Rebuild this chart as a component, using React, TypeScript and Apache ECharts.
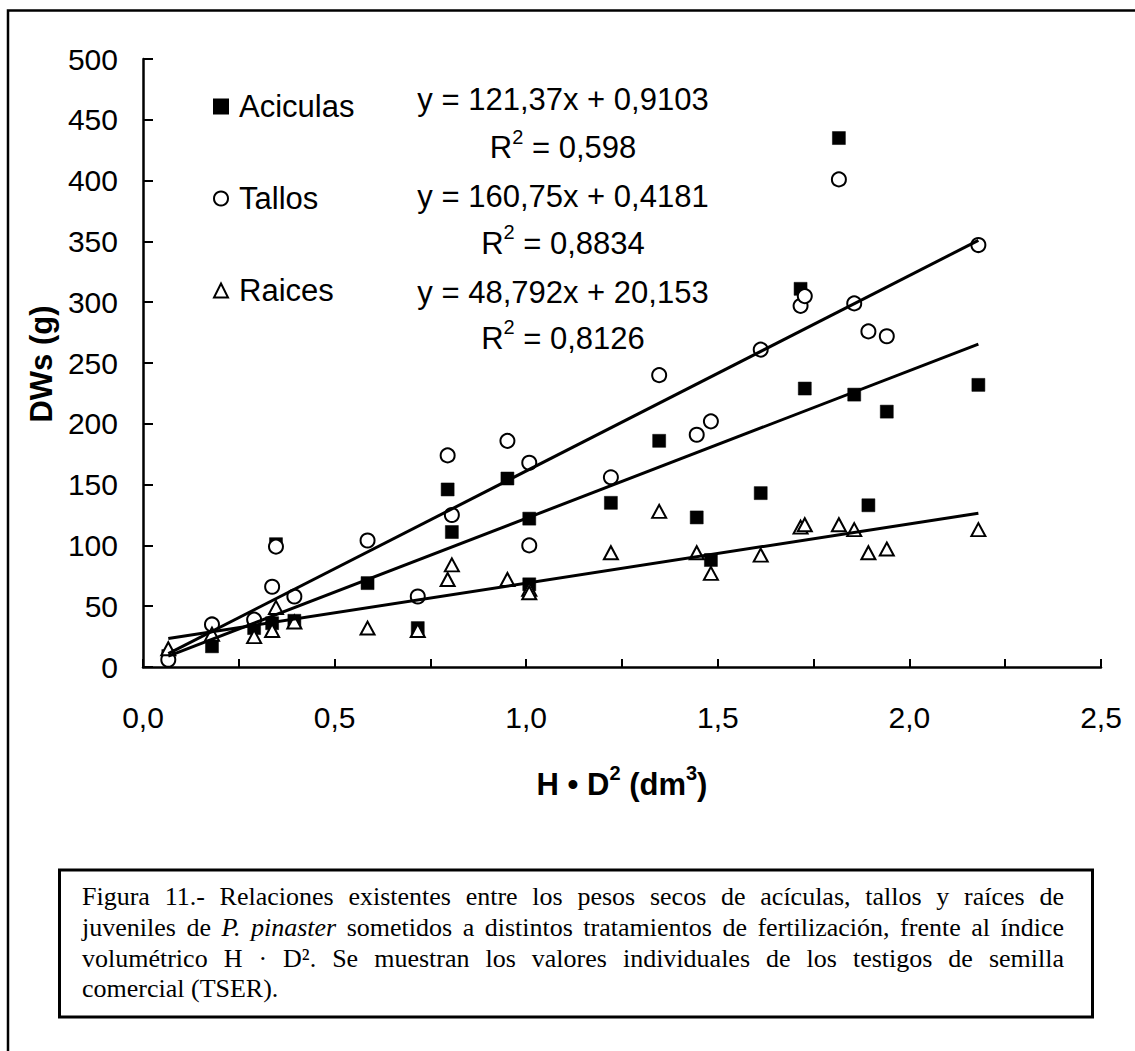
import React, { useEffect, useRef } from "react";
import * as echarts from "echarts";

// ---- data ----
const xValues = [0.066, 0.18, 0.29, 0.337, 0.347, 0.395, 0.586, 0.717, 0.795, 0.806, 0.951, 1.008, 1.008, 1.221, 1.347, 1.445, 1.482, 1.612, 1.716, 1.727, 1.816, 1.856, 1.893, 1.941, 2.18];
const aciculas = [9, 17, 32, 36, 101, 38, 69, 32, 146, 111, 155, 122, 68, 135, 186, 123, 88, 143, 311, 229, 435, 224, 133, 210, 232];
const tallos = [6, 35, 39, 66, 99, 58, 104, 58, 174, 125, 186, 168, 100, 156, 240, 191, 202, 261, 297, 305, 401, 299, 276, 272, 347];
const raices = [15, 27, 25, 30, 49, 37, 32, 30, 72, 84, 72, 64, 61, 94, 128, 94, 77, 92, 115, 117, 117, 113, 94, 97, 113];

const seriesNames = ["Aciculas", "Tallos", "Raices"];
const slopes = [121.37, 160.75, 48.792];
const intercepts = [0.9103, 0.4181, 20.153];
const eqTexts = ["y = 121,37x + 0,9103", "y = 160,75x + 0,4181", "y = 48,792x + 20,153"];
const r2Texts = ["0,598", "0,8834", "0,8126"];

const yAxisTitle = "DWs (g)";
const captionLines = [
  "Figura 11.- Relaciones existentes entre los pesos secos de acículas, tallos y raíces de",
  "juveniles de *P.* *pinaster* sometidos a distintos tratamientos de fertilización, frente al índice",
  "volumétrico H · D². Se muestran los valores individuales de los testigos de semilla",
  "comercial (TSER).",
];

const FONT_SANS = "'Liberation Sans', Arial, sans-serif";
const FONT_TICK = "'Liberation Sans Narrow', 'Arial Narrow', 'Liberation Sans', Arial, sans-serif";
const FONT_SERIF = "'Liberation Serif', 'Times New Roman', serif";

function buildCaption(): any[] {
  const ctx = document.createElement("canvas").getContext("2d") as CanvasRenderingContext2D;
  const size = 26;
  const left = 82;
  const right = 1064;
  const ys = [896, 927, 958, 988];
  const els: any[] = [];
  captionLines.forEach((line, li) => {
    const words = line.split(" ").map((w) => {
      const italic = w.startsWith("*") && w.endsWith("*");
      return { t: italic ? w.slice(1, -1) : w, italic };
    });
    const widths = words.map((w) => {
      ctx.font = `${w.italic ? "italic " : ""}${size}px 'Liberation Serif'`;
      return ctx.measureText(w.t).width;
    });
    ctx.font = `${size}px 'Liberation Serif'`;
    const spaceW = ctx.measureText(" ").width;
    const total = widths.reduce((a, b) => a + b, 0);
    const last = li === captionLines.length - 1;
    const gap = last || words.length < 2 ? spaceW : (right - left - total) / (words.length - 1);
    let x = left;
    words.forEach((w, wi) => {
      els.push({
        type: "text",
        x,
        y: ys[li],
        silent: true,
        style: {
          text: w.t,
          fontSize: size,
          fontFamily: FONT_SERIF,
          fontStyle: w.italic ? "italic" : "normal",
          fill: "#000",
          align: "left",
          verticalAlign: "middle",
        },
      });
      x += widths[wi] + gap;
    });
  });
  return els;
}

export default function App() {
  const ref = useRef<HTMLDivElement>(null);

  useEffect(() => {
    if (!ref.current) return;
    const chart = echarts.init(ref.current, undefined, { renderer: "svg" });

    const pts = (ys: number[]) => xValues.map((x, i) => [x, ys[i]]);
    const xMin = Math.min(...xValues);
    const xMax = Math.max(...xValues);
    const trend = (k: number) => [
      [xMin, slopes[k] * xMin + intercepts[k]],
      [xMax, slopes[k] * xMax + intercepts[k]],
    ];

    const eqY = [99, 147.5, 196, 243, 292, 338];
    const eqEls: any[] = [];
    eqTexts.forEach((t, k) => {
      eqEls.push({
        type: "text",
        x: 563,
        y: eqY[k * 2],
        silent: true,
        style: { text: t, fontSize: 31, fontFamily: FONT_SANS, fill: "#000", align: "center", verticalAlign: "middle" },
      });
      eqEls.push({
        type: "text",
        x: 563,
        y: eqY[k * 2 + 1],
        silent: true,
        style: {
          text: `{m|R}{s|2}{m| = ${r2Texts[k]}}`,
          align: "center",
          verticalAlign: "middle",
          rich: {
            m: { fontSize: 31, lineHeight: 42, fontFamily: FONT_SANS, fill: "#000" },
            s: { fontSize: 20, lineHeight: 20, fontFamily: FONT_SANS, fill: "#000", verticalAlign: "top" },
          },
        },
      });
    });

    const option: any = {
      animation: false,
      backgroundColor: "#fff",
      grid: { left: 143, right: 34, top: 59, bottom: 384, containLabel: false },
      legend: {
        data: seriesNames,
        orient: "vertical",
        left: 213,
        top: 91,
        padding: 0,
        itemWidth: 14,
        itemHeight: 14,
        itemGap: 61,
        selectedMode: false,
        itemStyle: { opacity: 1 },
        textStyle: { fontSize: 31, fontFamily: FONT_SANS, color: "#000", lineHeight: 30, padding: [0, 0, 0, 6] },
      },
      xAxis: {
        type: "value",
        min: 0,
        max: 2.5,
        interval: 0.25,
        axisLine: { show: true, onZero: false, lineStyle: { color: "#000", width: 2.5 } },
        axisTick: { show: true, inside: true, length: 8, lineStyle: { color: "#000", width: 2 } },
        axisLabel: {
          fontSize: 30,
          fontFamily: FONT_TICK,
          color: "#000",
          margin: 35,
          formatter: (v: number) =>
            Math.abs(v * 2 - Math.round(v * 2)) < 1e-6 ? v.toFixed(1).replace(".", ",") : "",
        },
        splitLine: { show: false },
      },
      yAxis: {
        type: "value",
        min: 0,
        max: 500,
        interval: 50,
        axisLine: { show: true, lineStyle: { color: "#000", width: 2.5 } },
        axisTick: { show: true, inside: true, length: 10, lineStyle: { color: "#000", width: 2 } },
        axisLabel: { fontSize: 30, fontFamily: FONT_TICK, color: "#000", margin: 25 },
        splitLine: { show: false },
      },
      series: [
        {
          name: seriesNames[0],
          type: "scatter",
          data: pts(aciculas),
          symbol: "rect",
          symbolSize: 13,
          itemStyle: { color: "#000", borderColor: "#000", borderWidth: 0.5, opacity: 1 },
          z: 2,
        },
        {
          name: seriesNames[1],
          type: "scatter",
          data: pts(tallos),
          symbol: "circle",
          symbolSize: 14,
          itemStyle: { color: "#fff", borderColor: "#000", borderWidth: 2, opacity: 1 },
          z: 3,
        },
        {
          name: seriesNames[2],
          type: "scatter",
          data: pts(raices),
          symbol: "triangle",
          symbolSize: [14, 13],
          itemStyle: { color: "#fff", borderColor: "#000", borderWidth: 2, opacity: 1 },
          z: 4,
        },
        ...[0, 1, 2].map((k) => ({
          name: "Tendencia " + seriesNames[k],
          type: "line",
          data: trend(k),
          symbol: "none",
          showSymbol: false,
          silent: true,
          lineStyle: { color: "#000", width: 3, opacity: 1 },
          z: 5,
        })),
      ],
      graphic: [
        {
          type: "rect",
          silent: true,
          shape: { x: 8, y: 10.5, width: 1300, height: 1200 },
          style: { fill: "none", stroke: "#000", lineWidth: 2.5 },
        },
        {
          type: "rect",
          silent: true,
          shape: { x: 59.5, y: 870, width: 1033, height: 147 },
          style: { fill: "#fff", stroke: "#000", lineWidth: 3 },
        },
        ...buildCaption(),
        ...eqEls,
        {
          type: "text",
          x: 41,
          y: 364,
          rotation: Math.PI / 2,
          silent: true,
          style: {
            text: yAxisTitle,
            fontSize: 31,
            fontWeight: "bold",
            fontFamily: FONT_SANS,
            fill: "#000",
            align: "center",
            verticalAlign: "middle",
          },
        },
        {
          type: "text",
          x: 622,
          y: 784,
          silent: true,
          style: {
            text: "{b|H • D}{s|2}{b| (dm}{s|3}{b|)}",
            align: "center",
            verticalAlign: "middle",
            rich: {
              b: { fontSize: 31, lineHeight: 42, fontWeight: "bold", fontFamily: FONT_SANS, fill: "#000" },
              s: { fontSize: 20, lineHeight: 20, fontWeight: "bold", fontFamily: FONT_SANS, fill: "#000", verticalAlign: "top" },
            },
          },
        },
      ],
    };

    chart.setOption(option);
    return () => chart.dispose();
  }, []);

  return (
    <div
      ref={ref}
      style={{ position: "absolute", left: 0, top: 0, width: 1135, height: 1051, background: "#fff" }}
    />
  );
}
